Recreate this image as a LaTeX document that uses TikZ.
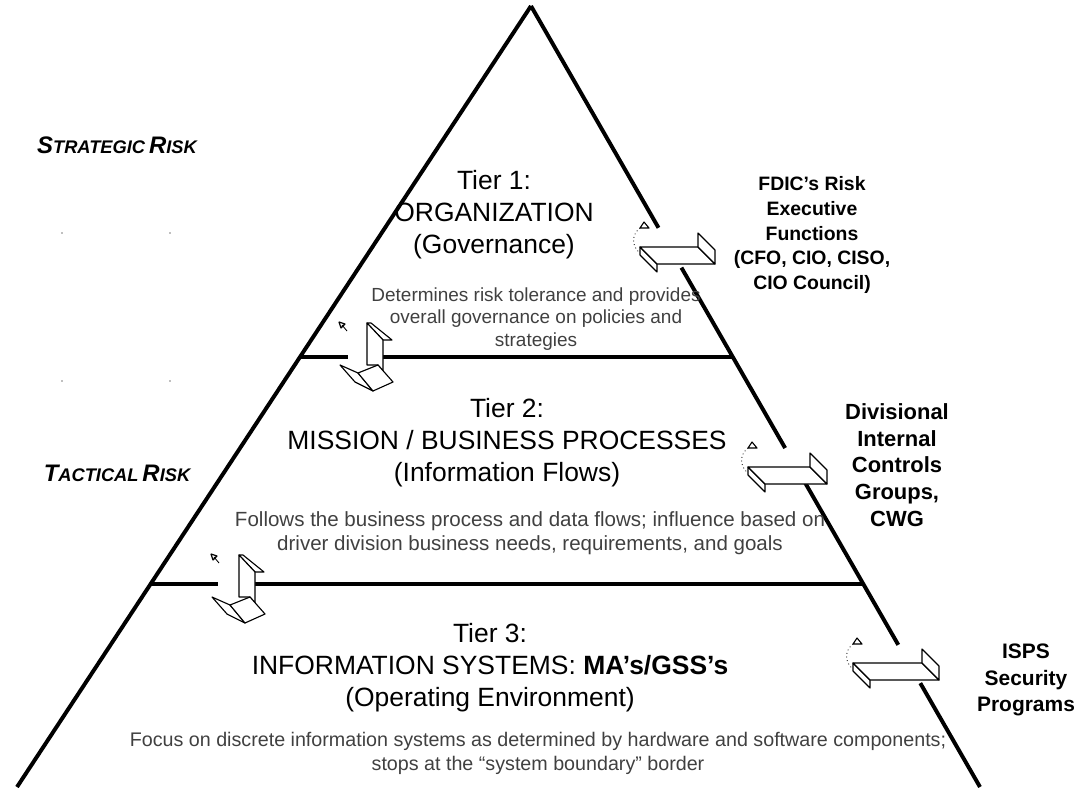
\documentclass[tikz,border=0pt]{standalone}
\usepackage{fontspec}
\setmainfont{Liberation Sans}
\usetikzlibrary{calc}
\begin{document}
\begin{tikzpicture}[x=0.025cm,y=-0.025cm,
	edge/.style={line width=2.8pt},
	tierline/.style={line width=2.3pt},
	part/.style={draw,line width=0.8pt,fill=white,line join=round},
	tiertext/.style={align=center,font=\fontsize{18.8}{22.7}\selectfont},
	desctext/.style={align=center,text=black!75,font=\fontsize{13.5}{15.8}\selectfont},
	sidetext/.style={align=center,font=\bfseries\fontsize{13.8}{17.7}\selectfont},
	risktext/.style={font=\bfseries\itshape},
	pics/slabarrow/.style={code={
		\draw[line width=0.6pt,dotted] (0,-19) .. controls (-9,-12) and (-8,0) .. (0,6);
		\draw[part] (4,-25) -- (9,-19) -- (0,-19) -- cycle;
		\draw[part] (0,0) -- (17,17) -- (17,25) -- (0,8) -- cycle;
		\draw[part] (0,0) -- (#1,0) -- (#1+17,17) -- (17,17) -- cycle;
		\draw[part] (#1,-14) -- (#1+17,3) -- (#1+17,17) -- (#1,0) -- cycle;
	}},
	pics/bendarrow/.style={code={
		\draw[part] (-28,-1) -- (-22,1) -- (-26,5) -- cycle;
		\draw[line width=0.6pt] (-25,2) -- (-20,8);
		\draw[part] (0,0) -- (4,0) -- (25,17) -- (16,17) -- cycle;
		\draw[part] (0,0) -- (16,17) -- (16,48) -- (11,42) -- (0,42) -- cycle;
		\draw[part] (-27,42) -- (-9,50) -- (6,68) -- (-12,59) -- cycle;
		\draw[part] (-9,50) -- (11,42) -- (26,59) -- (6,68) -- cycle;
	}}]
	\useasboundingbox (0,0) rectangle (1082,787);

	% pyramid
	\coordinate (apex) at (531,6);
	\coordinate (bl) at (17,787);
	\coordinate (br) at (980,787);
	\draw[edge] (apex) -- (bl);
	\draw[edge] (apex) -- ($(apex)!0.284!(br)$);
	\draw[edge] ($(apex)!0.335!(br)$) -- ($(apex)!0.566!(br)$);
	\draw[edge] ($(apex)!0.609!(br)$) -- ($(apex)!0.818!(br)$);
	\draw[edge] ($(apex)!0.867!(br)$) -- (br);

	% tier borders
	\draw[tierline] (300,357) -- (348,357);
	\draw[tierline] (383,357) -- (733,357);
	\draw[tierline] (151,584) -- (218,584);
	\draw[tierline] (255,584) -- (863,584);

	% tier texts
	\node[tiertext] (tierone) at (494,215) {Tier 1:\\ORGANIZATION\\(Governance)};
	\node[desctext] (descone) at (536,319) {Determines risk tolerance and provides\\overall governance on policies and\\strategies};
	\node[tiertext] (tiertwo) at (507,443) {Tier 2:\\MISSION / BUSINESS PROCESSES\\(Information Flows)};
	\node[desctext,font=\fontsize{14.6}{17}\selectfont] (desctwo) at (530,533) {Follows the business process and data flows; influence based on\\driver division business needs, requirements, and goals};
	\node[tiertext] (tierthree) at (490,668) {Tier 3:\\INFORMATION SYSTEMS: \textbf{MA's/GSS's}\\(Operating Environment)};
	\node[desctext,font=\fontsize{14}{17}\selectfont] (descthree) at (538,753) {Focus on discrete information systems as determined by hardware and software components;\\stops at the ``system boundary'' border};

	% risk levels
	\node[risktext] (strategic) at (117,145) {{\fontsize{17}{19}\selectfont S}{\fontsize{13}{15}\selectfont TRATEGIC} {\fontsize{17}{19}\selectfont R}{\fontsize{13}{15}\selectfont ISK}};
	\node[risktext] (tactical) at (117,473) {{\fontsize{17}{19}\selectfont T}{\fontsize{13}{15}\selectfont ACTICAL} {\fontsize{17}{19}\selectfont R}{\fontsize{13}{15}\selectfont ISK}};
	\foreach \dx in {62,170} {
		\fill[black!50] (\dx,233) circle (0.8);
		\fill[black!50] (\dx,381) circle (0.8);
	}

	% responsible parties
	\node[sidetext] (fdic) at (812,235) {FDIC's Risk\\Executive\\Functions\\(CFO, CIO, CISO,\\CIO Council)};
	\node[sidetext,font=\bfseries\fontsize{15.6}{19}\selectfont] (divisional) at (897,465) {Divisional\\Internal\\Controls\\Groups,\\CWG};
	\node[sidetext,font=\bfseries\fontsize{14.9}{19}\selectfont] (isps) at (1026,680) {ISPS\\Security\\Programs};

	% arrows
	\pic at (640,247) {slabarrow=58};
	\pic at (748,467) {slabarrow=62};
	\pic at (853,663) {slabarrow=69};
	\pic at (367,323) {bendarrow};
	\pic at (239,555) {bendarrow};
\end{tikzpicture}
\end{document}
